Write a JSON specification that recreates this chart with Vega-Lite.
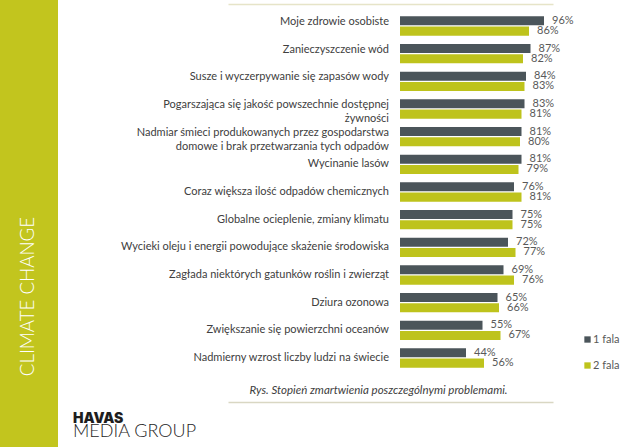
{
  "$schema": "https://vega.github.io/schema/vega-lite/v6.json",
  "padding": 0,
  "spacing": 170,
  "bounds": "flush",
  "config": {"view": {"stroke": null}, "font": "Lato"},
  "hconcat": [
    {
      "width": 58,
      "height": 447,
      "view": {"fill": "#c2c51e", "stroke": null},
      "data": {"values": [{"t": "CLIMATE CHANGE"}]},
      "mark": {"type": "text", "angle": 270, "color": "#ffffff", "font": "Lato", "fontWeight": 300, "fontSize": 18.7, "dx": -73, "dy": -1, "align": "center", "baseline": "middle"},
      "encoding": {"text": {"field": "t", "type": "nominal"}}
    },
    {
      "width": 325,
      "height": 402,
      "title": {"text": "HAVAS", "subtitle": "MEDIA GROUP", "orient": "bottom", "anchor": "start", "frame": "group", "dx": -155, "offset": 10, "font": "Inter", "fontSize": 14, "fontWeight": 900, "color": "#1e1e1e", "subtitleFont": "Lato", "subtitleFontSize": 18, "subtitleFontWeight": 300, "subtitleColor": "#1e1e1e", "subtitlePadding": -3},
      "data": {"values": [
        {"problem": "Moje zdrowie osobiste", "fala": "1 fala", "pct": 0.96},
        {"problem": "Moje zdrowie osobiste", "fala": "2 fala", "pct": 0.86},
        {"problem": "Zanieczyszczenie wód", "fala": "1 fala", "pct": 0.87},
        {"problem": "Zanieczyszczenie wód", "fala": "2 fala", "pct": 0.82},
        {"problem": "Susze i wyczerpywanie się zapasów wody", "fala": "1 fala", "pct": 0.84},
        {"problem": "Susze i wyczerpywanie się zapasów wody", "fala": "2 fala", "pct": 0.83},
        {"problem": "Pogarszająca się jakość  powszechnie dostępnej\nżywności", "fala": "1 fala", "pct": 0.83},
        {"problem": "Pogarszająca się jakość  powszechnie dostępnej\nżywności", "fala": "2 fala", "pct": 0.81},
        {"problem": "Nadmiar śmieci produkowanych przez gospodarstwa\ndomowe i brak przetwarzania tych  odpadów", "fala": "1 fala", "pct": 0.81},
        {"problem": "Nadmiar śmieci produkowanych przez gospodarstwa\ndomowe i brak przetwarzania tych  odpadów", "fala": "2 fala", "pct": 0.80},
        {"problem": "Wycinanie lasów", "fala": "1 fala", "pct": 0.81},
        {"problem": "Wycinanie lasów", "fala": "2 fala", "pct": 0.79},
        {"problem": "Coraz większa ilość odpadów chemicznych", "fala": "1 fala", "pct": 0.76},
        {"problem": "Coraz większa ilość odpadów chemicznych", "fala": "2 fala", "pct": 0.81},
        {"problem": "Globalne ocieplenie, zmiany klimatu", "fala": "1 fala", "pct": 0.75},
        {"problem": "Globalne ocieplenie, zmiany klimatu", "fala": "2 fala", "pct": 0.75},
        {"problem": "Wycieki oleju i energii powodujące skażenie środowiska", "fala": "1 fala", "pct": 0.72},
        {"problem": "Wycieki oleju i energii powodujące skażenie środowiska", "fala": "2 fala", "pct": 0.77},
        {"problem": "Zagłada niektórych gatunków roślin i zwierząt", "fala": "1 fala", "pct": 0.69},
        {"problem": "Zagłada niektórych gatunków roślin i zwierząt", "fala": "2 fala", "pct": 0.76},
        {"problem": "Dziura ozonowa", "fala": "1 fala", "pct": 0.65},
        {"problem": "Dziura ozonowa", "fala": "2 fala", "pct": 0.66},
        {"problem": "Zwiększanie się powierzchni oceanów", "fala": "1 fala", "pct": 0.55},
        {"problem": "Zwiększanie się powierzchni oceanów", "fala": "2 fala", "pct": 0.67},
        {"problem": "Nadmierny wzrost liczby ludzi na świecie", "fala": "1 fala", "pct": 0.44},
        {"problem": "Nadmierny wzrost liczby ludzi na świecie", "fala": "2 fala", "pct": 0.56}
      ]},
      "resolve": {"axis": {"x": "independent"}},
      "layer": [
        {
          "mark": {"type": "bar"},
          "encoding": {
            "y": {"field": "problem", "type": "nominal", "sort": null,
              "scale": {"paddingInner": 0.3, "paddingOuter": 0.915, "align": 0.322},
              "axis": null},
            "yOffset": {"field": "fala", "type": "nominal", "scale": {"paddingInner": 0.12}},
            "x": {"field": "pct", "type": "quantitative", "stack": null,
              "scale": {"domain": [-1.1467, 1.02], "nice": false},
              "axis": {"orient": "top", "offset": -4, "domain": true, "domainColor": "#e6e4c8", "domainWidth": 1.5, "labels": false, "ticks": false, "grid": false, "title": null}},
            "color": {"field": "fala", "type": "nominal",
              "scale": {"domain": ["1 fala", "2 fala"], "range": ["#4b555a", "#bec31c"]},
              "legend": {"title": null, "orient": "none", "legendX": 582, "legendY": 334, "symbolType": "square", "symbolSize": 40, "symbolStrokeWidth": 0, "labelFont": "Lato", "labelFontSize": 11, "labelColor": "#595959", "rowPadding": 14, "labelOffset": 0, "padding": 0}}
          }
        },
        {
          "mark": {"type": "text", "align": "left", "baseline": "middle", "dx": 8, "font": "Lato", "fontSize": 11, "color": "#595959"},
          "encoding": {
            "y": {"field": "problem", "type": "nominal", "sort": null, "axis": null},
            "yOffset": {"field": "fala", "type": "nominal"},
            "x": {"field": "pct", "type": "quantitative",
              "axis": {"orient": "bottom", "domain": true, "domainColor": "#d9d7c3", "domainWidth": 1.5, "labels": false, "ticks": false, "grid": false,
                "title": "Rys. Stopień zmartwienia poszczególnymi problemami.", "titleFont": "Lato", "titleFontStyle": "italic", "titleFontWeight": "normal", "titleFontSize": 11.5, "titleColor": "#404040", "titleX": 21, "titleY": -12, "titleAlign": "left", "titleBaseline": "middle", "titleAnchor": "start"}},
            "text": {"field": "pct", "type": "quantitative", "format": ".0%"}
          }
        },
        {
          "transform": [
            {"filter": "datum.fala == '1 fala'"},
            {"filter": {"field": "problem", "oneOf": ["Moje zdrowie osobiste", "Zanieczyszczenie wód", "Susze i wyczerpywanie się zapasów wody", "Pogarszająca się jakość  powszechnie dostępnej\nżywności", "Nadmiar śmieci produkowanych przez gospodarstwa\ndomowe i brak przetwarzania tych  odpadów"]}}
          ],
          "mark": {"type": "text", "align": "right", "baseline": "middle", "lineBreak": "\n", "lineHeight": 14, "dy": -4, "font": "Lato", "fontSize": 11, "color": "#404040"},
          "encoding": {
            "y": {"field": "problem", "type": "nominal", "sort": null, "axis": null},
            "x": {"datum": -0.0733, "type": "quantitative", "axis": null},
            "text": {"field": "problem", "type": "nominal"}
          }
        },
        {
          "transform": [
            {"filter": "datum.fala == '1 fala'"},
            {"filter": {"not": {"field": "problem", "oneOf": ["Moje zdrowie osobiste", "Zanieczyszczenie wód", "Susze i wyczerpywanie się zapasów wody", "Pogarszająca się jakość  powszechnie dostępnej\nżywności", "Nadmiar śmieci produkowanych przez gospodarstwa\ndomowe i brak przetwarzania tych  odpadów"]}}}
          ],
          "mark": {"type": "text", "align": "right", "baseline": "middle", "lineBreak": "\n", "lineHeight": 14, "dy": 0, "font": "Lato", "fontSize": 11, "color": "#404040"},
          "encoding": {
            "y": {"field": "problem", "type": "nominal", "sort": null, "axis": null},
            "x": {"datum": -0.0733, "type": "quantitative", "axis": null},
            "text": {"field": "problem", "type": "nominal"}
          }
        }
      ]
    }
  ]
}
